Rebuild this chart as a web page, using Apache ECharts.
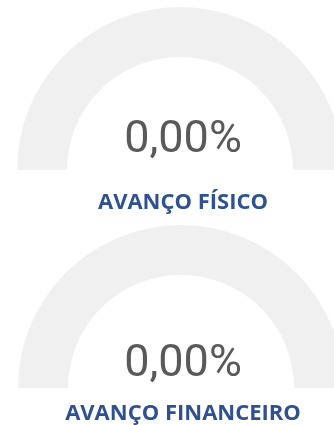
<!DOCTYPE html>
<html>
<head>
<meta charset="utf-8">
<style>
  html, body { margin: 0; padding: 0; background: #ffffff; }
  #chart { width: 334px; height: 425px; }
</style>
<script src="https://cdn.jsdelivr.net/npm/echarts@6/dist/echarts.min.js"></script>
</head>
<body>
<div id="chart"></div>
<script>
// Indicator values (percent) and their captions
const indicatorNames = ['AVANÇO FÍSICO', 'AVANÇO FINANCEIRO'];
const indicatorValues = [0, 0];

// Layout of each gauge: arc centre, value offset, caption offset
const gaugeCenters = [[180, 170], [181, 388]];
const valueOffsets = [[3, -29], [2, -23]];
const captionOffsets = [[3, 33], [2, 26]];

const chart = echarts.init(document.getElementById('chart'), null, { renderer: 'canvas' });

const series = indicatorNames.map((name, i) => ({
  type: 'gauge',
  center: gaugeCenters[i],
  radius: 163,
  startAngle: 180,
  endAngle: 0,
  min: 0,
  max: 100,
  progress: { show: true, width: 50, itemStyle: { color: '#4472c4' } },
  axisLine: { lineStyle: { width: 50, color: [[1, '#f0f0f0']] } },
  pointer: { show: false },
  axisTick: { show: false },
  splitLine: { show: false },
  axisLabel: { show: false },
  anchor: { show: false },
  title: {
    offsetCenter: captionOffsets[i],
    color: '#2f5191',
    fontFamily: 'Open Sans',
    fontWeight: 'bold',
    fontSize: 22
  },
  detail: {
    offsetCenter: valueOffsets[i],
    color: '#595959',
    fontFamily: 'Roboto',
    fontWeight: 'normal',
    fontSize: 45,
    formatter: v => v.toFixed(2).replace('.', ',') + '%'
  },
  data: [{ value: indicatorValues[i], name: name }]
}));

chart.setOption({ animation: false, series });
</script>
</body>
</html>
